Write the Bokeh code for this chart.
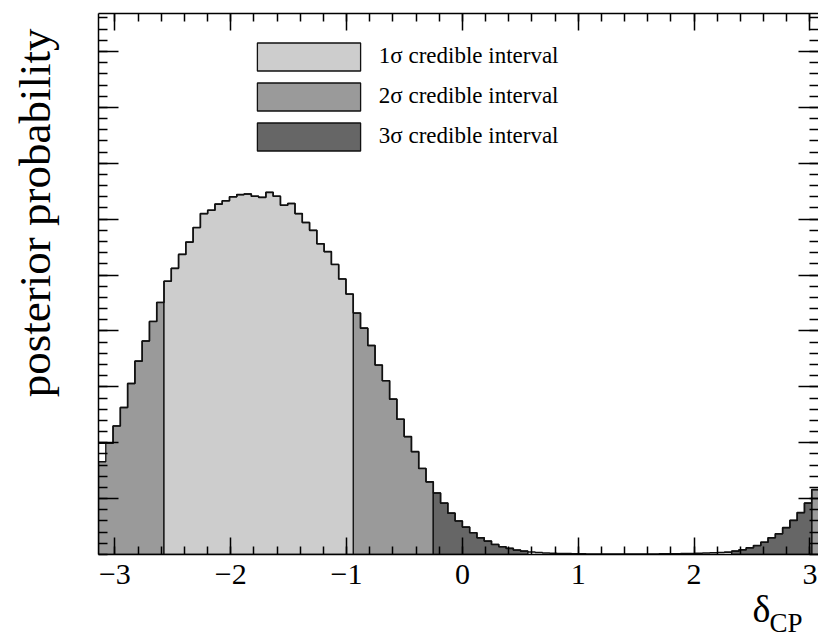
import numpy as np
from bokeh.plotting import figure
from bokeh.models import (LinearAxis, FixedTicker, Range1d, Label, Legend,
                          LegendItem)
from bokeh.embed import file_html
from bokeh.resources import INLINE

# ---------------- data ----------------
N_BINS = 100
X_MIN, X_MAX = -np.pi, np.pi

# posterior probability per bin (arbitrary units)
posterior = [
    1.99, 1.99, 2.30, 2.63, 3.06, 3.46, 3.82, 4.17, 4.51, 4.89,
    5.12, 5.37, 5.59, 5.85, 6.10, 6.16, 6.27, 6.33, 6.40, 6.44,
    6.45, 6.41, 6.39, 6.48, 6.41, 6.25, 6.28, 6.10, 5.94, 5.80,
    5.56, 5.42, 5.19, 4.93, 4.66, 4.32, 4.05, 3.74, 3.39, 3.11,
    2.78, 2.42, 2.11, 1.84, 1.54, 1.30, 1.10, 0.92, 0.74, 0.60,
    0.49, 0.39, 0.30, 0.24, 0.18, 0.14, 0.11, 0.08, 0.06, 0.045,
    0.035, 0.028, 0.022, 0.018, 0.015, 0.013, 0.011, 0.010, 0.009, 0.008,
    0.008, 0.008, 0.008, 0.008, 0.009, 0.009, 0.010, 0.011, 0.012, 0.014,
    0.016, 0.019, 0.022, 0.026, 0.030, 0.035, 0.042, 0.06, 0.084, 0.12,
    0.16, 0.22, 0.30, 0.37, 0.48, 0.61, 0.75, 0.92, 1.16, 1.50,
]
first_bin_fill = 1.66   # filled height of the first bin (lower than its outline)

# credible-interval level of each bin (0 = outside 3 sigma)
interval_level = [2] * 9 + [1] * 26 + [2] * 11 + [3] * 13 + [0] * 28 + [3] * 11 + [2] * 2

level_labels = {1: "1σ credible interval", 2: "2σ credible interval", 3: "3σ credible interval"}
level_colors = {1: "#cdcdcd", 2: "#9a9a9a", 3: "#666666"}

x_major_ticks = [-3, -2, -1, 0, 1, 2, 3]
x_tick_labels = {-3: "−3", -2: "−2", -1: "−1", 0: "0", 1: "1", 2: "2", 3: "3"}
x_minor_ticks = [round(-3.0 + 0.2 * i, 1) for i in range(31)]
y_major_ticks = list(range(1, 10))
y_minor_ticks = [round(0.2 * i, 1) for i in range(49)]

# ---------------- geometry helpers ----------------
edges = np.linspace(X_MIN, X_MAX, N_BINS + 1)
fill_heights = list(posterior)
fill_heights[0] = first_bin_fill

runs = []
start = 0
for i in range(1, N_BINS + 1):
    if i == N_BINS or interval_level[i] != interval_level[start]:
        runs.append((interval_level[start], start, i))
        start = i

polys = {1: ([], []), 2: ([], []), 3: ([], [])}
for lvl, s, e in runs:
    if lvl == 0:
        continue
    xs = [edges[s]]
    ys = [0.0]
    for b in range(s, e):
        xs += [edges[b], edges[b + 1]]
        ys += [fill_heights[b], fill_heights[b]]
    xs.append(edges[e])
    ys.append(0.0)
    polys[lvl][0].append(xs)
    polys[lvl][1].append(ys)

# ---------------- figure ----------------
FRAME_LEFT, FRAME_RIGHT, FRAME_TOP, FRAME_BOTTOM = 98, 818, 13, 554
px_per_unit = 115.83
py_per_unit = 55.89
x_view_end = X_MIN + (FRAME_RIGHT - FRAME_LEFT) / px_per_unit

p = figure(width=818, height=639,
           x_range=Range1d(X_MIN, x_view_end), y_range=Range1d(0, 9.68),
           output_backend="svg", toolbar_location=None,
           min_border_left=FRAME_LEFT, min_border_right=0,
           min_border_top=FRAME_TOP, min_border_bottom=639 - FRAME_BOTTOM)
p.grid.visible = False
p.outline_line_color = None
p.background_fill_color = "white"
p.border_fill_color = "white"

renderers = {}
for lvl in (2, 3, 1):
    xs, ys = polys[lvl]
    renderers[lvl] = p.patches(xs=xs, ys=ys, fill_color=level_colors[lvl],
                               line_color="#111111", line_width=1.3)

step_x = list(edges)
step_y = list(posterior) + [posterior[-1]]
p.step(x=step_x, y=step_y, mode="after", line_color="#111111", line_width=1.6)

FONT = "Liberation Serif"

def style_axis(ax, ticks, minor, major_len, minor_len):
    ax.ticker = FixedTicker(ticks=ticks, minor_ticks=minor)
    ax.axis_line_color = "black"
    ax.axis_line_width = 1.5
    ax.major_tick_line_color = "black"
    ax.minor_tick_line_color = "black"
    ax.major_tick_line_width = 1.5
    ax.minor_tick_line_width = 1.5
    ax.major_tick_in = major_len
    ax.major_tick_out = 0
    ax.minor_tick_in = minor_len
    ax.minor_tick_out = 0

# bottom axis
bx = p.xaxis[0]
style_axis(bx, x_major_ticks, x_minor_ticks, 17, 8)
bx.major_label_overrides = x_tick_labels
bx.major_label_text_font = FONT
bx.major_label_text_font_size = "30px"
bx.major_label_text_color = "black"
bx.major_label_standoff = 10

# left axis
ly = p.yaxis[0]
style_axis(ly, y_major_ticks, y_minor_ticks, 20, 9)
ly.major_label_overrides = {t: "" for t in y_major_ticks}
ly.major_label_standoff = 0

# top axis
tx = LinearAxis()
style_axis(tx, x_major_ticks, x_minor_ticks, 17, 8)
tx.major_label_overrides = {t: "" for t in x_major_ticks}
tx.major_label_text_font_size = "1px"
tx.major_label_standoff = 0
p.add_layout(tx, "above")

# right axis (its line lies at the cropped edge)
ry = LinearAxis()
style_axis(ry, y_major_ticks, y_minor_ticks, 20, 9)
ry.axis_line_color = None
ry.major_label_overrides = {t: "" for t in y_major_ticks}
ry.major_label_standoff = 0
p.add_layout(ry, "right")

# axis titles (placed in side panels so that they are not clipped to the frame)
def to_x(px):
    return X_MIN + (px - FRAME_LEFT) / px_per_unit

def to_y(py):
    return (FRAME_BOTTOM - py) / py_per_unit

p.add_layout(Label(x=to_x(34), y=to_y(28),
                   text="posterior probability", angle=np.pi / 2,
                   text_align="right", text_baseline="alphabetic",
                   text_font=FONT, text_font_size="45px", text_color="black"), "left")
p.add_layout(Label(x=to_x(752), y=to_y(609),
                   text="δ", text_align="left", text_baseline="alphabetic",
                   text_font=FONT, text_font_size="38px", text_color="black"), "left")
p.add_layout(Label(x=to_x(769), y=to_y(623),
                   text="CP", text_align="left", text_baseline="alphabetic",
                   text_font=FONT, text_font_size="27px", text_color="black"), "below")

# legend
legend = Legend(items=[LegendItem(label=level_labels[l], renderers=[renderers[l]]) for l in (1, 2, 3)],
                location=(145.8, 400.5), glyph_width=129, glyph_height=35,
                spacing=5, label_standoff=6, padding=0, margin=0,
                border_line_color=None, background_fill_alpha=0,
                label_text_font=FONT, label_text_font_size="23px",
                label_text_color="black", label_height=20)
p.add_layout(legend)

open("out.html", "w").write(file_html(p, INLINE))
